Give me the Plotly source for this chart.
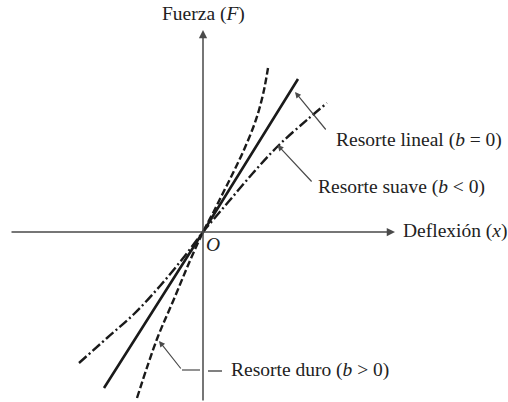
import plotly.graph_objects as go

# Force-deflection curves (arbitrary units), F = kx + bx^3 families
linear_x = [-0.99, 0.0, 0.95]
linear_F = [-1.56, 0.0, 1.53]

soft_x = [-1.24, -0.96, -0.69, -0.43, -0.19, 0.0, 0.10, 0.27, 0.50, 0.75, 1.05, 1.24]
soft_F = [-1.31, -1.06, -0.82, -0.54, -0.25, 0.0, 0.12, 0.32, 0.59, 0.86, 1.13, 1.29]

hard_x = [-0.66, -0.46, -0.29, -0.14, 0.0, 0.10, 0.20, 0.30, 0.40, 0.50, 0.56, 0.61, 0.65]
hard_F = [-1.66, -1.07, -0.67, -0.31, 0.0, 0.19, 0.39, 0.59, 0.80, 1.04, 1.22, 1.42, 1.64]

# Axis extents
x_axis_span = [-1.93, 1.92]
F_axis_span = [-1.70, 2.02]

# Labels
label_F = "Fuerza (<i>F</i>)"
label_x = "Deflexión (<i>x</i>)"
label_origin = "<i>O</i>"
label_linear = "Resorte lineal (<i>b</i> = 0)"
label_soft = "Resorte suave (<i>b</i> < 0)"
label_hard = "Resorte duro (<i>b</i> > 0)"

INK = "#1a1a1a"
AXIS = "#4a4a4a"
TEXT = "#222222"
FONT = "Liberation Serif"
TEXT_SIZE = 19.5

fig = go.Figure()

fig.add_trace(go.Scatter(x=linear_x, y=linear_F, mode="lines",
                         line=dict(color=INK, width=2.6)))
fig.add_trace(go.Scatter(x=soft_x, y=soft_F, mode="lines", line_shape="spline",
                         line=dict(color=INK, width=2.4, dash="10px,3px,2px,3px")))
fig.add_trace(go.Scatter(x=hard_x, y=hard_F, mode="lines", line_shape="spline",
                         line=dict(color=INK, width=2.4, dash="7px,3px")))

# Coordinate axes with arrowheads
fig.add_annotation(x=x_axis_span[1], y=0, ax=x_axis_span[0], ay=0,
                   xref="x", yref="y", axref="x", ayref="y", text="",
                   showarrow=True, arrowhead=2, arrowsize=1.1, arrowwidth=1.5,
                   arrowcolor=AXIS)
fig.add_annotation(x=0, y=F_axis_span[1], ax=0, ay=F_axis_span[0],
                   xref="x", yref="y", axref="x", ayref="y", text="",
                   showarrow=True, arrowhead=2, arrowsize=1.1, arrowwidth=1.5,
                   arrowcolor=AXIS)

# Leader arrows to the curves
fig.add_annotation(x=0.92, y=1.40, ax=1.24, ay=1.01,
                   xref="x", yref="y", axref="x", ayref="y", text="",
                   showarrow=True, arrowhead=2, arrowsize=1.0, arrowwidth=1.2,
                   arrowcolor=AXIS)
fig.add_annotation(x=0.745, y=0.87, ax=1.10, ay=0.49,
                   xref="x", yref="y", axref="x", ayref="y", text="",
                   showarrow=True, arrowhead=2, arrowsize=1.0, arrowwidth=1.2,
                   arrowcolor=AXIS)
fig.add_shape(type="line", x0=-0.03, y0=-1.38, x1=-0.21, y1=-1.38,
              line=dict(color=AXIS, width=1.2))
fig.add_annotation(x=-0.44, y=-1.09, ax=-0.21, ay=-1.38,
                   xref="x", yref="y", axref="x", ayref="y", text="",
                   showarrow=True, arrowhead=2, arrowsize=1.0, arrowwidth=1.2,
                   arrowcolor=AXIS)
fig.add_shape(type="line", x0=0.05, y0=-1.39, x1=0.19, y1=-1.39,
              line=dict(color=AXIS, width=1.4))

def label(text, x, y, anchor="left", size=TEXT_SIZE):
    fig.add_annotation(x=x, y=y, xref="x", yref="y", text=text, showarrow=False,
                       xanchor=anchor, yanchor="middle",
                       font=dict(family=FONT, size=size, color=TEXT))

label(label_F, 0.0, 2.18, anchor="center")
label(label_x, 1.98, 0.01)
label(label_origin, 0.10, -0.12, anchor="center")
label(label_linear, 1.31, 0.92)
label(label_soft, 1.13, 0.45)
label(label_hard, 0.26, -1.38)

fig.update_xaxes(range=[-2.03, 3.05], visible=False, fixedrange=True)
fig.update_yaxes(range=[-1.70, 2.32], visible=False, fixedrange=True)
fig.update_layout(width=508, height=402, margin=dict(l=0, r=0, t=0, b=0),
                  paper_bgcolor="white", plot_bgcolor="white", showlegend=False)

fig.write_html("out.html")
